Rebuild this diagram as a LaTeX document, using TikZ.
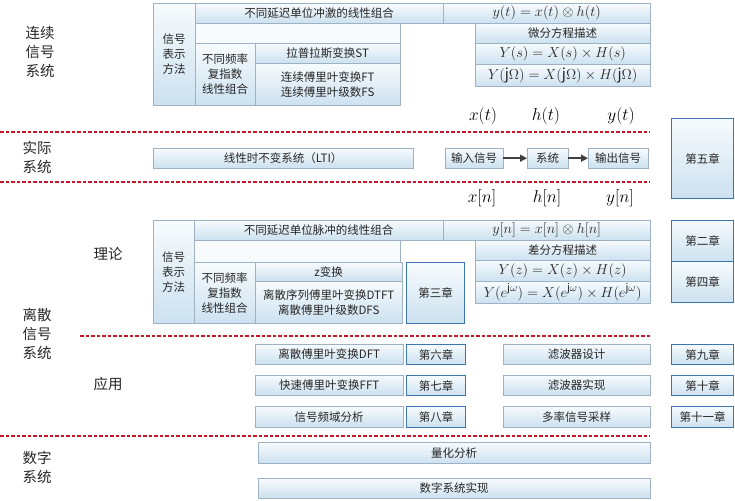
\documentclass[tikz,border=0pt]{standalone}
\usepackage{fontspec}
\setmainfont{Noto Sans CJK SC}
\usetikzlibrary{arrows.meta}
\definecolor{cellline}{RGB}{158,178,196}
\definecolor{celltop}{RGB}{247,251,253}
\definecolor{cellbot}{RGB}{204,225,240}
\definecolor{chapline}{RGB}{58,118,178}
\definecolor{dashred}{RGB}{200,22,40}
\tikzset{
  cell/.style={draw=cellline, top color=celltop, bottom color=cellbot, anchor=north west,
    inner sep=0pt, align=center, text=black!85, font=\fontsize{11.5}{15}\selectfont},
  mcell/.style={cell, font=\fontsize{15}{17}\selectfont},
  chap/.style={cell, draw=chapline, line width=1.2pt},
  frame/.style={draw=cellline, fill=celltop},
  side/.style={align=center, text=black!85, font=\fontsize{14.5}{19}\selectfont},
  sig/.style={font=\fontsize{18}{20}\selectfont},
  sep/.style={dashred, line width=2pt, dash pattern=on 3.5pt off 2pt},
  flow/.style={-{Triangle[length=7pt,width=7pt]}, line width=1.6pt, black!75}
}
\begin{document}
\begin{tikzpicture}[x=1pt,y=-1pt]
\useasboundingbox (0,0) rectangle (735,500);
% continuous signals and systems
\node[side] (cont) at (40,52) {连续\\信号\\系统};
\draw[frame] (153,3) rectangle (400,105);
\node[cell, minimum width=42, minimum height=102] (cmethod) at (153,3) {信号\\表示\\方法};
\node[cell, minimum width=248, minimum height=20] (cimpulse) at (195,3) {不同延迟单位冲激的线性组合};
\node[mcell, minimum width=207, minimum height=20] (cconv) at (443,3) {$y(t)=x(t)\otimes h(t)$};
\node[cell, minimum width=175, minimum height=20] (cdiff) at (475,23) {微分方程描述};
\node[mcell, minimum width=175, minimum height=21] (cs) at (475,43) {$Y(s)=X(s)\times H(s)$};
\node[mcell, minimum width=175, minimum height=22] (cjw) at (475,64) {$Y(\mathrm{j}\Omega)=X(\mathrm{j}\Omega)\times H(\mathrm{j}\Omega)$};
\node[cell, minimum width=60, minimum height=62] (cfreq) at (195,43) {不同频率\\复指数\\线性组合};
\node[cell, minimum width=145, minimum height=20] (cst) at (255,43) {拉普拉斯变换ST};
\node[cell, minimum width=145, minimum height=42] (cft) at (255,63) {连续傅里叶变换FT\\连续傅里叶级数FS};
\node[sig] (xt) at (483,116) {$x(t)$};
\node[sig] (ht) at (546,116) {$h(t)$};
\node[sig] (yt) at (621,116) {$y(t)$};
\draw[sep] (0,132) -- (650,132);
% real systems
\node[side] (real) at (37,157) {实际\\系统};
\node[cell, minimum width=260, minimum height=20] (lti) at (153,148) {线性时不变系统（LTI）};
\node[cell, minimum width=58, minimum height=20] (input) at (445,148) {输入信号};
\node[cell, minimum width=41, minimum height=20] (system) at (527,148) {系统};
\node[cell, minimum width=60, minimum height=20] (output) at (588,148) {输出信号};
\draw[flow] (input) -- (system);
\draw[flow] (system) -- (output);
\node[chap, minimum width=62, minimum height=80] (ch5) at (671,118) {第五章};
\draw[sep] (0,182) -- (650,182);
\node[sig] (xn) at (482,198) {$x[n]$};
\node[sig] (hn) at (547,198) {$h[n]$};
\node[sig] (yn) at (620,198) {$y[n]$};
% discrete theory
\node[side] (theory) at (108,254) {理论};
\draw[frame] (153,220) rectangle (400,323);
\node[cell, minimum width=41, minimum height=103] (dmethod) at (153,220) {信号\\表示\\方法};
\node[cell, minimum width=249, minimum height=20] (dimpulse) at (194,220) {不同延迟单位脉冲的线性组合};
\node[mcell, minimum width=207, minimum height=20] (dconv) at (443,220) {$y[n]=x[n]\otimes h[n]$};
\node[cell, minimum width=175, minimum height=20] (ddiff) at (475,240) {差分方程描述};
\node[mcell, minimum width=175, minimum height=21] (dz) at (475,260) {$Y(z)=X(z)\times H(z)$};
\node[mcell, minimum width=175, minimum height=22] (dw) at (475,281) {$Y(e^{\mathrm{j}\omega})=X(e^{\mathrm{j}\omega})\times H(e^{\mathrm{j}\omega})$};
\node[cell, minimum width=61, minimum height=61] (dfreq) at (194,262) {不同频率\\复指数\\线性组合};
\node[cell, minimum width=147, minimum height=19] (dzt) at (255,262) {z变换};
\node[cell, minimum width=147, minimum height=42] (ddtft) at (255,281) {离散序列傅里叶变换DTFT\\离散傅里叶级数DFS};
\node[chap, minimum width=58, minimum height=61] (ch3) at (406,262) {第三章};
\node[chap, minimum width=62, minimum height=41] (ch2) at (671,220) {第二章};
\node[chap, minimum width=62, minimum height=41] (ch4) at (671,261) {第四章};
\node[side] (discrete) at (37,334) {离散\\信号\\系统};
\draw[sep] (80,336) -- (650,336);
% discrete applications
\node[side] (appl) at (108,384) {应用};
\node[cell, minimum width=148, minimum height=20] (dft) at (255,344) {离散傅里叶变换DFT};
\node[chap, minimum width=59, minimum height=20] (ch6) at (406,344) {第六章};
\node[cell, minimum width=147, minimum height=20] (fdesign) at (503,344) {滤波器设计};
\node[chap, minimum width=62, minimum height=20] (ch9) at (671,344) {第九章};
\node[cell, minimum width=148, minimum height=20] (fft) at (255,375) {快速傅里叶变换FFT};
\node[chap, minimum width=59, minimum height=20] (ch7) at (406,375) {第七章};
\node[cell, minimum width=147, minimum height=20] (fimpl) at (503,375) {滤波器实现};
\node[chap, minimum width=62, minimum height=20] (ch10) at (671,375) {第十章};
\node[cell, minimum width=148, minimum height=21] (spec) at (255,406) {信号频域分析};
\node[chap, minimum width=59, minimum height=21] (ch8) at (406,406) {第八章};
\node[cell, minimum width=147, minimum height=21] (multi) at (503,406) {多率信号采样};
\node[chap, minimum width=62, minimum height=21] (ch11) at (671,406) {第十一章};
\draw[sep] (0,436) -- (650,436);
% digital systems
\node[side] (digital) at (37,467) {数字\\系统};
\node[cell, minimum width=392, minimum height=21] (quant) at (258,442) {量化分析};
\node[cell, minimum width=392, minimum height=20] (realize) at (258,478) {数字系统实现};
\end{tikzpicture}
\end{document}
